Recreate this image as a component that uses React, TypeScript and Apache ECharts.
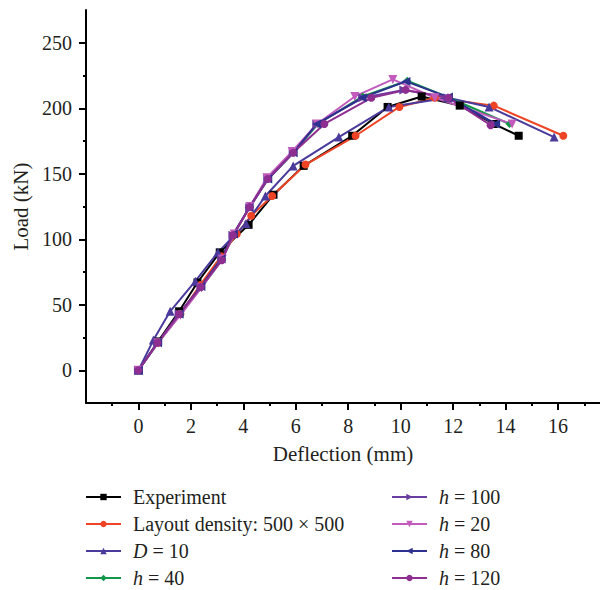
import React, { useEffect, useRef } from "react";
import * as echarts from "echarts";

const FONT = "'Liberation Serif', 'Times New Roman', serif";

const seriesNames = [
  "Experiment",
  "Layout density: 500 × 500",
  "D = 10",
  "h = 40",
  "h = 100",
  "h = 20",
  "h = 80",
  "h = 120",
];

const experiment = [[0, 0], [0.75, 22], [1.55, 45], [2.25, 67], [3.1, 90], [4.2, 111], [5.15, 134], [6.3, 156], [8.15, 179], [9.5, 201], [10.8, 209], [12.25, 202], [13.55, 188], [14.5, 179]];
const layoutDensity = [[0, 0], [0.75, 21], [1.6, 43], [2.35, 65], [3.15, 87], [3.75, 104], [4.3, 118], [5.1, 133], [6.37, 157], [8.28, 179], [9.95, 201], [11.3, 208], [13.55, 202], [16.2, 179]];
const d10 = [[0, 0], [0.57, 23], [1.21, 45], [2.17, 68], [3.03, 90], [4.1, 112], [4.84, 133], [5.9, 156], [7.64, 178], [9.55, 201], [11.8, 208], [13.37, 201], [15.85, 178]];
const h40 = [[0, 0], [0.75, 21], [1.6, 43], [2.4, 63], [3.2, 85], [3.65, 104], [4.25, 125], [4.95, 146], [5.9, 166], [6.85, 188], [8.55, 209], [10.25, 221], [11.85, 208], [14.15, 188]];
const h100 = [[0, 0], [0.73, 21], [1.55, 43], [2.38, 63], [3.18, 84], [3.6, 103], [4.24, 124], [4.93, 146], [5.9, 166], [6.8, 188], [8.55, 208], [10.12, 214], [11.8, 208], [13.6, 188]];
const h20 = [[0, 0], [0.75, 21], [1.6, 42], [2.4, 63], [3.2, 85], [3.65, 104], [4.25, 125], [4.9, 147], [5.86, 167], [6.81, 188], [8.25, 209], [9.7, 222], [11.3, 208], [14.25, 188]];
const h80 = [[0, 0], [0.73, 21], [1.55, 43], [2.38, 64], [3.15, 85], [3.62, 104], [4.22, 124], [4.93, 146], [5.9, 166], [6.8, 188], [8.53, 208], [10.2, 220.5], [11.82, 208.5], [13.62, 188]];
const h120 = [[0, 0], [0.73, 21], [1.55, 43], [2.38, 63.5], [3.18, 84], [3.6, 103], [4.24, 124.5], [4.93, 146], [5.9, 166], [7.09, 188], [8.88, 208], [10.19, 214], [11.82, 208], [13.43, 187]];

const allData = [experiment, layoutDensity, d10, h40, h100, h20, h80, h120];
const colors = ["#000000", "#ee4425", "#4a3a9b", "#12964a", "#6a3ea1", "#c25bbd", "#2e3090", "#8e2e91"];
const symbols = ["rect", "circle", "triangle", "diamond", "triangle", "triangle", "triangle", "circle"];
const rotations = [0, 0, 0, 0, -90, 180, 90, 0];

const xMajor = [0, 2, 4, 6, 8, 10, 12, 14, 16];
const xMinor = [-1, 1, 3, 5, 7, 9, 11, 13, 15, 17];
const yMajor = [0, 50, 100, 150, 200, 250];
const yMinor = [25, 75, 125, 175, 225];

export default function App() {
  const ref = useRef<HTMLDivElement>(null);
  useEffect(() => {
    if (!ref.current) return;
    document.body.style.margin = "0";
    const chart = echarts.init(ref.current, null, { renderer: "svg" });
    const legendFormatter = (name: string) => {
      const m = name.match(/^([hD])( = .*)$/);
      if (m) return `{i|${m[1]}}{n|${m[2]}}`;
      return `{n|${name}}`;
    };
    const legendText = {
      fontFamily: FONT,
      fontSize: 20,
      color: "#231f20",
      padding: [0, 0, 0, 7],
      rich: {
        i: { fontFamily: FONT, fontSize: 20, lineHeight: 20, fontStyle: "italic", color: "#231f20" },
        n: { fontFamily: FONT, fontSize: 20, lineHeight: 20, color: "#231f20" },
      },
    };
    const legendCommon = {
      orient: "vertical",
      top: 487,
      padding: 0,
      itemWidth: 35,
      itemHeight: 8,
      itemGap: 7,
      formatter: legendFormatter,
      textStyle: legendText,
    };
    chart.setOption({
      animation: false,
      grid: { left: 86, top: 10, width: 514, height: 393, outerBoundsMode: "none", containLabel: false },
      xAxis: [
        {
          type: "value",
          min: -2,
          max: 17.6,
          interval: 2,
          axisLine: { show: true, onZero: false, lineStyle: { color: "#000", width: 2 } },
          splitLine: { show: false },
          axisTick: { show: true, length: 7, lineStyle: { width: 2, color: "#000" }, customValues: xMajor },
          axisLabel: { customValues: xMajor, fontFamily: FONT, fontSize: 20, color: "#231f20", margin: 13 },
          name: "Deflection (mm)",
          nameLocation: "middle",
          nameGap: 40,
          nameTextStyle: { fontFamily: FONT, fontSize: 21, color: "#231f20" },
        },
        {
          type: "value",
          min: -2,
          max: 17.6,
          position: "bottom",
          axisLine: { show: false, onZero: false },
          splitLine: { show: false },
          axisTick: { show: true, length: 3, lineStyle: { width: 2, color: "#000" }, customValues: xMinor },
          axisLabel: { show: false },
        },
      ],
      yAxis: [
        {
          type: "value",
          min: -25,
          max: 275,
          axisLine: { show: true, onZero: false, lineStyle: { color: "#000", width: 2 } },
          splitLine: { show: false },
          axisTick: { show: true, length: 7, lineStyle: { width: 2, color: "#000" }, customValues: yMajor },
          axisLabel: { customValues: yMajor, fontFamily: FONT, fontSize: 20, color: "#231f20", margin: 14 },
          name: "Load (kN)",
          nameLocation: "middle",
          nameGap: 54,
          nameTextStyle: { fontFamily: FONT, fontSize: 21, color: "#231f20" },
        },
        {
          type: "value",
          min: -25,
          max: 275,
          position: "left",
          axisLine: { show: false, onZero: false },
          splitLine: { show: false },
          axisTick: { show: true, length: 3, lineStyle: { width: 2, color: "#000" }, customValues: yMinor },
          axisLabel: { show: false },
        },
      ],
      legend: [
        { ...legendCommon, data: seriesNames.slice(0, 4), left: 85 },
        { ...legendCommon, data: seriesNames.slice(4), left: 391 },
      ],
      series: seriesNames.map((name, i) => ({
        name,
        type: "line",
        xAxisIndex: 0,
        yAxisIndex: 0,
        data: allData[i],
        symbol: symbols[i],
        symbolRotate: rotations[i],
        symbolSize: symbols[i] === "triangle" ? 9 : 8,
        showAllSymbol: true,
        color: colors[i],
        lineStyle: { color: colors[i], width: 2 },
        itemStyle: { color: colors[i] },
      })),
    });
    return () => chart.dispose();
  }, []);
  return <div ref={ref} style={{ width: 600, height: 590 }} />;
}
